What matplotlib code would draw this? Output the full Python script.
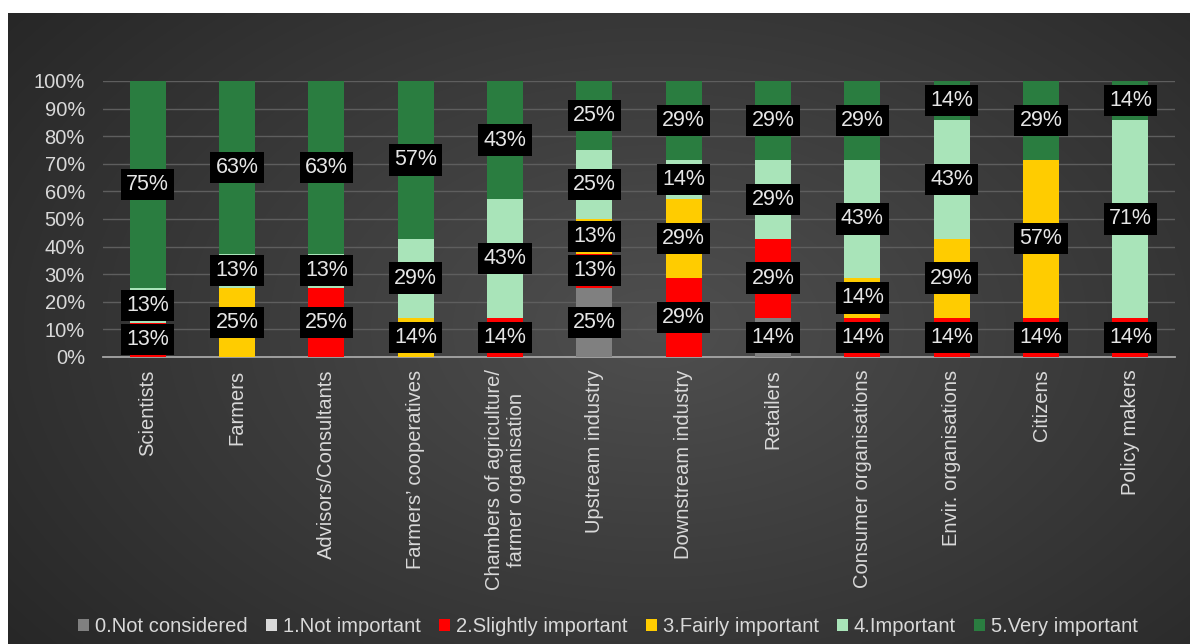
import numpy as np
import matplotlib
matplotlib.use("Agg")
import matplotlib.pyplot as plt

plt.rcParams['font.family'] = ['Liberation Sans', 'DejaVu Sans']

# stakeholder groups and number of answers per importance level
groups = ['Scientists', 'Farmers', 'Advisors/Consultants', 'Farmers\u2019 cooperatives',
          'Chambers of agriculture/\nfarmer organisation', 'Upstream industry',
          'Downstream industry', 'Retailers', 'Consumer organisations',
          'Envir. organisations', 'Citizens', 'Policy makers']
levels = ['0.Not considered', '1.Not important', '2.Slightly important',
          '3.Fairly important', '4.Important', '5.Very important']

not_considered = [0, 0, 0, 0, 0, 2, 0, 1, 0, 0, 0, 0]
not_important = [0, 0, 0, 0, 0, 0, 0, 0, 0, 0, 0, 0]
slightly = [1, 0, 2, 0, 1, 1, 2, 2, 1, 1, 1, 1]
fairly = [0, 2, 0, 1, 0, 1, 2, 0, 1, 2, 4, 0]
important = [1, 1, 1, 2, 3, 2, 1, 2, 3, 3, 0, 5]
very = [6, 5, 5, 4, 3, 2, 2, 2, 2, 1, 2, 1]

colors = ['#808080', '#d9d9d9', '#ff0000', '#ffcc00', '#a9e4b9', '#2a7d40']

counts = np.array([not_considered, not_important, slightly, fairly, important, very], dtype=float)
shares = counts / counts.sum(axis=0) * 100

fig = plt.figure(figsize=(11.9, 6.44), dpi=100)
fig.patch.set_facecolor('white')

# dark radial background panel
bg = fig.add_axes([8 / 1190, 0, 1 - 8 / 1190, 1 - 13 / 644], zorder=-10)
yy, xx = np.mgrid[0:1:300j, 0:1:600j]
r = np.sqrt(((xx - 0.55) / 0.75) ** 2 + ((yy - 0.5) / 0.9) ** 2)
shade = np.clip(0.31 - 0.17 * r, 0.15, 0.31)
bg.imshow(np.dstack([shade] * 3), aspect='auto', extent=[0, 1, 0, 1], interpolation='bilinear')
bg.set_axis_off()

ax = fig.add_axes([103 / 1190, 1 - 357 / 644, (1175 - 103) / 1190, (357 - 81) / 644])
ax.set_facecolor('none')

x = np.arange(len(groups))
bottom = np.zeros(len(groups))
for lvl, vals, col in zip(levels, shares, colors):
    ax.bar(x, vals, 0.4, bottom=bottom, color=col, label=lvl, zorder=3)
    for xi, b, v in zip(x, bottom, vals):
        if v > 0:
            ax.text(xi, b + v / 2, '%d%%' % int(v + 0.5), ha='center', va='center',
                    fontsize=15.5, color='#e6e6e6', zorder=5,
                    bbox=dict(boxstyle='square,pad=0.24', fc='black', ec='none'))
    bottom += vals

ax.set_xlim(-0.5, len(groups) - 0.5)
ax.set_ylim(0, 100)
ax.set_yticks(np.arange(0, 101, 10))
ax.set_yticklabels(['%d%%' % v for v in range(0, 101, 10)])
ax.set_xticks(x)
ax.set_xticklabels(groups, rotation=90, ha='center', va='top', multialignment='center')
ax.tick_params(axis='y', length=0, pad=13, labelsize=14.5, labelcolor='#d9d9d9')
ax.tick_params(axis='x', length=0, pad=9, labelsize=14.5, labelcolor='#d9d9d9')
ax.grid(axis='y', color='#5e5e5e', linewidth=1, zorder=0)
for s in ['top', 'right', 'left']:
    ax.spines[s].set_visible(False)
ax.spines['bottom'].set_color('#a6a6a6')
ax.spines['bottom'].set_linewidth(1.3)

handles, labels = ax.get_legend_handles_labels()
fig.legend(handles, labels, loc='center', bbox_to_anchor=(608 / 1190, 1 - 627 / 644),
           ncol=6, frameon=False, fontsize=14.5, labelcolor='#d9d9d9',
           handlelength=0.55, handleheight=0.55, handletextpad=0.3, columnspacing=0.9)

fig.savefig('out.png', dpi=100)
